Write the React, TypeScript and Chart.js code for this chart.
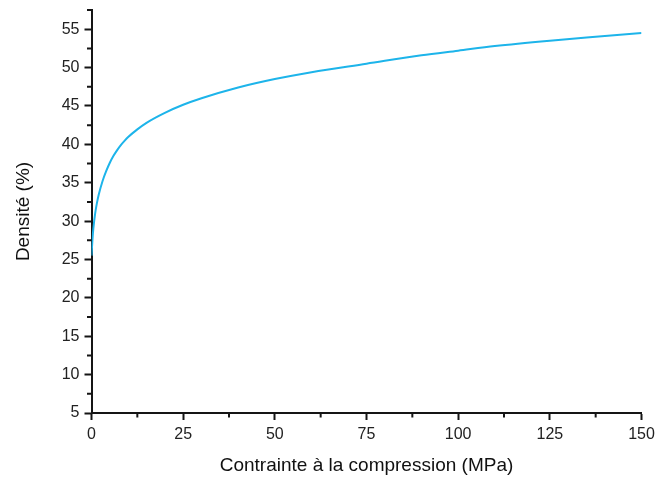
import { useEffect, useRef } from 'react';
import { Chart, registerables } from 'chart.js';

Chart.register(...registerables);

// Contrainte à la compression (MPa)
const stress = [0, 0.25, 0.5, 1, 1.5, 2, 3, 4, 5, 6, 7, 8, 9, 10, 12.5, 15, 20, 25, 30, 40, 50, 60, 75, 90, 100, 110, 125, 140, 150];
// Densité (%)
const density = [25.5, 27.5, 29.0, 31.0, 32.4, 33.5, 35.2, 36.5, 37.6, 38.5, 39.25, 39.9, 40.45, 40.95, 41.95, 42.8, 44.1, 45.15, 46.0, 47.4, 48.5, 49.4, 50.5, 51.6, 52.2, 52.8, 53.5, 54.1, 54.5];

const xMajorTicks = [0, 25, 50, 75, 100, 125, 150];
const xMinorTicks = [12.5, 37.5, 62.5, 87.5, 112.5, 137.5];
const yMajorTicks = [5, 10, 15, 20, 25, 30, 35, 40, 45, 50, 55];
const yMinorTicks = [7.5, 12.5, 17.5, 22.5, 27.5, 32.5, 37.5, 42.5, 47.5, 52.5, 57.5];

const xTitle = 'Contrainte à la compression (MPa)';
const yTitle = 'Densité (%)';

const FONT = '"Liberation Sans", Arial, Helvetica, sans-serif';
const AXIS_COLOR = '#151515';

const minorTickPlugin = {
  id: 'minorTicks',
  afterDraw(chart: any) {
    const { ctx, chartArea, scales } = chart;
    ctx.save();
    ctx.strokeStyle = AXIS_COLOR;
    ctx.lineWidth = 2;
    ctx.beginPath();
    for (const v of xMinorTicks) {
      const px = scales.x.getPixelForValue(v);
      ctx.moveTo(px, chartArea.bottom);
      ctx.lineTo(px, chartArea.bottom + 4.5);
    }
    for (const v of yMinorTicks) {
      const py = scales.y.getPixelForValue(v);
      ctx.moveTo(chartArea.left, py);
      ctx.lineTo(chartArea.left - 4.5, py);
    }
    ctx.stroke();
    ctx.restore();
  },
};

export default function App() {
  const canvasRef = useRef<HTMLCanvasElement | null>(null);

  useEffect(() => {
    if (!canvasRef.current) return;
    const chart = new Chart(canvasRef.current, {
      type: 'line',
      data: {
        datasets: [
          {
            data: stress.map((x, i) => ({ x, y: density[i] })),
            borderColor: '#1db4ea',
            borderWidth: 2,
            pointRadius: 0,
            cubicInterpolationMode: 'monotone',
            fill: false,
          },
        ],
      },
      options: {
        animation: false,
        responsive: false,
        maintainAspectRatio: false,
        layout: { padding: { top: 10, right: 14.5, left: 0, bottom: 0 } },
        plugins: {
          legend: { display: false },
          tooltip: { enabled: false },
        },
        scales: {
          x: {
            type: 'linear',
            min: 0,
            max: 150,
            afterBuildTicks: (scale: any) => {
              scale.ticks = xMajorTicks.map((v) => ({ value: v }));
            },
            afterFit: (scale: any) => {
              scale.height = 64;
              scale.paddingLeft = 0;
              scale.paddingRight = 0;
            },
            border: { display: true, color: AXIS_COLOR, width: 2 },
            grid: { drawOnChartArea: false, drawTicks: true, tickLength: 7, tickWidth: 2, tickColor: AXIS_COLOR },
            ticks: {
              padding: 4.5,
              color: '#222',
              font: { family: FONT, size: 16 },
              maxRotation: 0,
              callback: (v: any) => String(v),
            },
            title: {
              display: true,
              text: xTitle,
              color: '#111',
              font: { family: FONT, size: 19 },
              padding: { top: 0, bottom: 0 },
            },
          },
          y: {
            type: 'linear',
            min: 5,
            max: 57.5,
            afterBuildTicks: (scale: any) => {
              scale.ticks = yMajorTicks.map((v) => ({ value: v }));
            },
            afterFit: (scale: any) => {
              scale.width = 91.5;
              scale.paddingTop = 0;
              scale.paddingBottom = 0;
            },
            border: { display: true, color: AXIS_COLOR, width: 2 },
            grid: { drawOnChartArea: false, drawTicks: true, tickLength: 7, tickWidth: 2, tickColor: AXIS_COLOR },
            ticks: {
              padding: 5,
              color: '#222',
              font: { family: FONT, size: 16 },
              callback: (v: any) => String(v),
            },
            title: {
              display: true,
              text: yTitle,
              color: '#111',
              font: { family: FONT, size: 19 },
              padding: { top: 12.7, bottom: 0 },
            },
          },
        },
      },
      plugins: [minorTickPlugin],
    } as any);
    return () => chart.destroy();
  }, []);

  return (
    <div style={{ position: 'absolute', left: 0, top: 0, width: 656, height: 477, background: '#fff' }}>
      <canvas ref={canvasRef} width={656} height={477} style={{ display: 'block', width: 656, height: 477 }} />
    </div>
  );
}
